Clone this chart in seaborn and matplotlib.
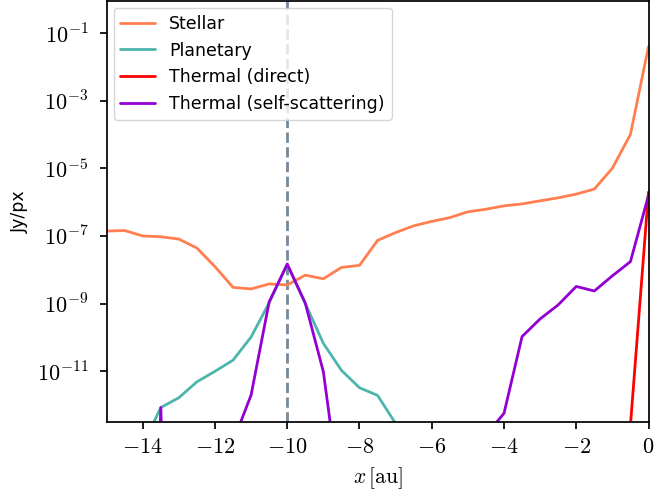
import numpy as np
import pandas as pd
import matplotlib
matplotlib.use("Agg")
import matplotlib.pyplot as plt
import seaborn as sns
from matplotlib.ticker import FixedLocator, NullLocator, FuncFormatter

# ---- data (Jy/px vs x [au]) ----
x_au = [-15.0, -14.5, -14.0, -13.5, -13.0, -12.5, -12.0, -11.5, -11.0, -10.5,
        -10.0, -9.5, -9.0, -8.5, -8.0, -7.5, -7.0, -6.5, -6.0, -5.5,
        -5.0, -4.5, -4.0, -3.5, -3.0, -2.5, -2.0, -1.5, -1.0, -0.5, 0.0]

stellar = [1.4e-7, 1.45e-7, 1.0e-7, 9.5e-8, 8.1e-8, 4.4e-8, 1.23e-8, 3.0e-9, 2.7e-9, 3.8e-9,
           3.55e-9, 6.9e-9, 5.4e-9, 1.17e-8, 1.35e-8, 7.4e-8, 1.26e-7, 2.0e-7, 2.7e-7, 3.5e-7,
           5.2e-7, 6.2e-7, 7.8e-7, 8.9e-7, 1.1e-6, 1.35e-6, 1.74e-6, 2.45e-6, 1.02e-5, 1.02e-4, 4.1e-2]

planetary = [1e-30, 1e-30, 6.3e-14, 8.3e-13, 1.62e-12, 4.8e-12, 9.8e-12, 2.1e-11, 1.02e-10, 1.05e-9,
             1.42e-8, 1.0e-9, 6.6e-11, 1.05e-11, 3.2e-12, 1.9e-12, 2.8e-13, 1e-30, 1e-30, 1e-30,
             1e-30, 1e-30, 1e-30, 1e-30, 1e-30, 1e-30, 1e-30, 1e-30, 1e-30, 1e-30, 1e-30]

thermal_direct = [1e-30] * 29 + [2.5e-13, 2.0e-6]

thermal_scatter = [1e-30, 1e-30, 1e-30, 8.3e-13, 1e-30, 1e-30, 1e-30, 8e-14, 1.95e-12, 1.12e-9,
                   1.48e-8, 1.02e-9, 9.5e-12, 1e-15, 1e-30, 1e-30, 1e-30, 1e-30, 1e-30, 1e-30,
                   1e-30, 1.26e-13, 5.6e-13, 1.05e-10, 3.5e-10, 9.1e-10, 3.2e-9, 2.35e-9, 6.6e-9, 1.74e-8, 1.6e-6]

labels = ["Stellar", "Planetary", "Thermal (direct)", "Thermal (self-scattering)"]
colors = ["#FF7F50", "#4DB6AC", "#FF0000", "#9400D3"]
planet_x = -10.0
y_ticks = [1e-11, 1e-9, 1e-7, 1e-5, 1e-3, 1e-1]
x_ticks = [-14, -12, -10, -8, -6, -4, -2, 0]

df = pd.concat([
    pd.DataFrame({"x": x_au, "flux": vals, "component": lab})
    for vals, lab in zip([stellar, planetary, thermal_direct, thermal_scatter], labels)
], ignore_index=True)

# ---- style ----
sns.set_style("ticks")
plt.rcParams["font.family"] = ["DejaVu Sans"]
plt.rcParams["mathtext.fontset"] = "cm"
plt.rcParams["text.color"] = "black"
plt.rcParams["axes.labelcolor"] = "black"
plt.rcParams["xtick.color"] = "black"
plt.rcParams["ytick.color"] = "black"

fig = plt.figure(figsize=(6.54, 4.94), dpi=100)
ax = fig.add_axes([0.163, 0.1464, 0.8286, 0.8516])
ax.set_yscale("log")

sns.lineplot(data=df, x="x", y="flux", hue="component", hue_order=labels,
             palette=dict(zip(labels, colors)), estimator=None, sort=False,
             linewidth=2, ax=ax)

ax.axvline(planet_x, color="#778899", linestyle="--", linewidth=2, zorder=1)

ax.set_xlim(-15, 0)
ax.set_ylim(10 ** -12.5, 10 ** -0.04)

ax.yaxis.set_major_locator(FixedLocator(y_ticks))
ax.yaxis.set_minor_locator(NullLocator())
ax.yaxis.set_major_formatter(FuncFormatter(lambda v, p: r"$10^{%d}$" % round(np.log10(v))))
ax.xaxis.set_major_locator(FixedLocator(x_ticks))
ax.xaxis.set_major_formatter(FuncFormatter(lambda v, p: r"$%d$" % v))

for s in ax.spines.values():
    s.set_linewidth(1.25)
    s.set_color("black")
ax.tick_params(axis="both", which="major", length=5, width=1.25, labelsize=16,
               direction="out", color="black", labelcolor="black")
ax.tick_params(axis="y", pad=8)
ax.tick_params(axis="x", pad=6)

ax.set_xlabel(r"$x\,[\mathrm{au}]$", fontsize=15.5, labelpad=6, color="black")
ax.set_ylabel("Jy/px", fontsize=12.5, labelpad=6, color="black")

handles, labs = ax.get_legend_handles_labels()
leg = ax.legend(handles=handles, labels=labs, loc="upper left", fontsize=12.5,
                frameon=True, framealpha=0.8, edgecolor="0.8", fancybox=True, title=None,
                borderaxespad=0.4)
for t in leg.get_texts():
    t.set_color("black")

fig.savefig("out.png", dpi=100)
